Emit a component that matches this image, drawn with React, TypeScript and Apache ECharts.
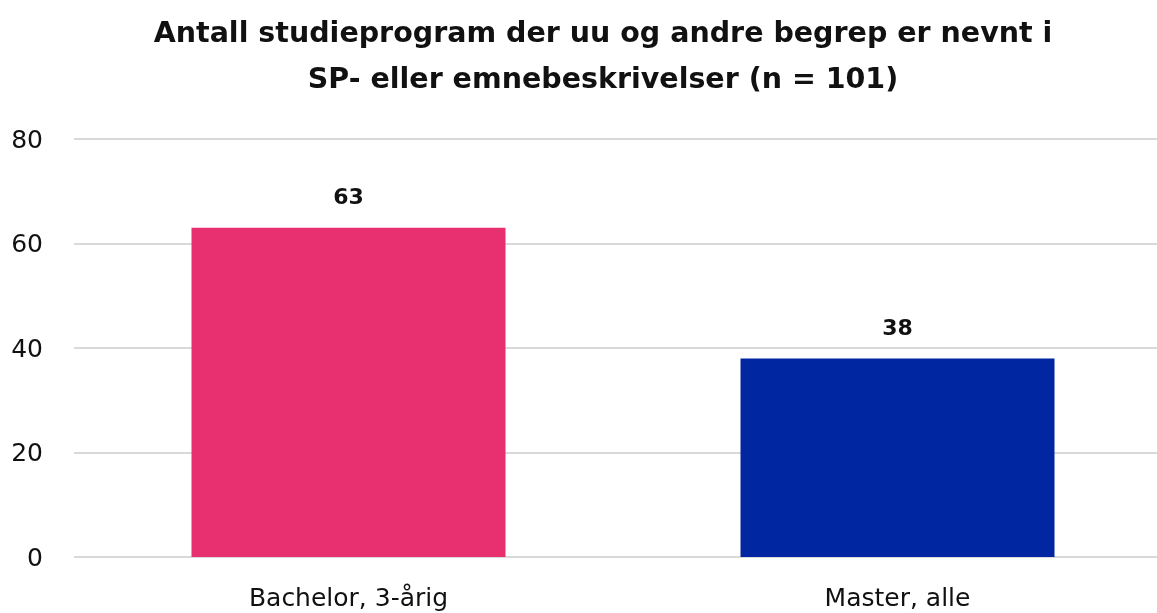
import React, { useEffect, useRef } from "react";
import * as echarts from "echarts";

const categories = ["Bachelor, 3-årig", "Master, alle"];
const values = [63, 38];
const barColors = ["#E83070", "#0027A1"];
const yTicks = [0, 20, 40, 60, 80];
const titleLines = [
  "Antall studieprogram der uu og andre begrep er nevnt i",
  "SP- eller emnebeskrivelser (n = 101)",
];

export default function App() {
  const ref = useRef<HTMLDivElement>(null);
  useEffect(() => {
    document.body.style.margin = "0";
    document.body.style.overflow = "hidden";
    const chart = echarts.init(ref.current!, undefined, { renderer: "svg" });
    const font = "'DejaVu Sans', sans-serif";
    chart.setOption({
      animation: false,
      title: {
        text: titleLines.join("\n"),
        left: 598,
        top: 4,
        textAlign: "center",
        textStyle: {
          fontFamily: font,
          fontSize: 28.5,
          fontWeight: "bold",
          color: "#111",
          lineHeight: 46,
        },
      },
      grid: { left: 74, right: 0, top: 139, bottom: 56, containLabel: false },
      xAxis: {
        type: "category",
        data: categories,
        axisLine: { show: false },
        axisTick: { show: false },
        axisLabel: { fontFamily: font, fontSize: 25, color: "#111", margin: 28 },
      },
      yAxis: {
        type: "value",
        min: yTicks[0],
        max: yTicks[yTicks.length - 1],
        interval: 20,
        axisLabel: { fontFamily: font, fontSize: 25, color: "#111", margin: 31 },
        splitLine: { lineStyle: { color: "#d9d9d9", width: 2 } },
        axisLine: { show: false },
        axisTick: { show: false },
      },
      series: [
        {
          type: "bar",
          barWidth: 314,
          data: values.map((v, i) => ({ value: v, itemStyle: { color: barColors[i] } })),
          label: {
            show: true,
            position: "top",
            distance: 20,
            fontFamily: font,
            fontSize: 22,
            fontWeight: "bold",
            color: "#111",
          },
        },
      ],
    });
    return () => chart.dispose();
  }, []);
  return (
    <div
      ref={ref}
      style={{ position: "fixed", left: 0, top: 0, width: 1172, height: 613 }}
    />
  );
}
